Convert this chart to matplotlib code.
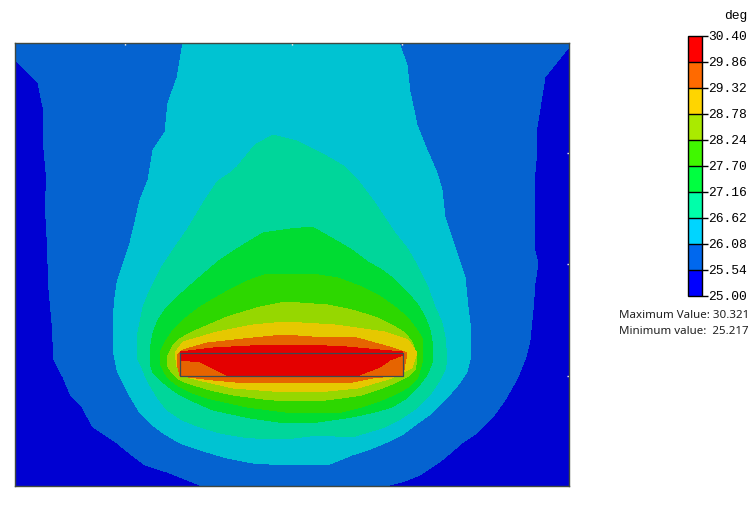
import matplotlib
matplotlib.use('Agg')
import matplotlib.pyplot as plt
from matplotlib.colors import ListedColormap, BoundaryNorm
from matplotlib.cm import ScalarMappable

# levels of the scale, degrees
levels = [25.00, 25.54, 26.08, 26.62, 27.16, 27.70, 28.24, 28.78, 29.32, 29.86, 30.40]
tick_labels = ['25.00', '25.54', '26.08', '26.62', '27.16', '27.70', '28.24', '28.78', '29.32', '29.86', '30.40']
legend_colors = ['#0000ff', '#0068ee', '#00d5ff', '#00ffaa', '#00ff40', '#40f800', '#aaea00', '#ffd500', '#ff6a00', '#ff0000']
plot_colors = ['#0000d2', '#0563d0', '#00c3d2', '#00d69a', '#00dc32', '#2dd700', '#96d700', '#e6c800', '#e66400', '#e40000']

# model extents and block outline
x_range = [15, 569]
y_range = [486, 43]
block_x = [180, 403, 403, 180, 180]
block_y = [353, 353, 376, 376, 353]
frame_xticks = [125, 292, 402]
frame_yticks = [153, 264, 376]

# contour outlines, lowest level first
c_2554 = [(15, 43), (569, 43), (569, 47), (545, 77), (537, 127), (537, 150), (534, 183), (535, 207), (534, 248), (538, 263), (535, 283), (533, 310), (530, 340), (526, 357), (518, 377), (505, 400), (492, 418), (477, 433), (462, 443), (442, 460), (420, 475), (402, 482), (385, 486), (202, 486), (167, 472), (145, 465), (128, 452), (117, 443), (93, 427), (82, 407), (71, 396), (63, 377), (54, 360), (52, 323), (49, 290), (47, 237), (45, 200), (47, 183), (44, 150), (43, 107), (38, 83), (15, 60)]
c_2608 = [(183, 43), (399, 43), (407, 65), (410, 92), (417, 125), (427, 150), (437, 173), (442, 190), (445, 217), (450, 232), (455, 247), (460, 262), (465, 277), (468, 307), (470, 323), (471, 347), (470, 360), (467, 372), (458, 385), (445, 400), (432, 413), (418, 423), (402, 435), (385, 443), (368, 450), (352, 455), (330, 464), (285, 465), (253, 463), (227, 458), (200, 450), (180, 443), (163, 433), (150, 423), (140, 413), (128, 393), (117, 370), (113, 350), (113, 320), (115, 297), (117, 283), (122, 267), (130, 243), (135, 222), (140, 200), (148, 180), (153, 150), (165, 132), (168, 103), (177, 78)]
c_2662 = [(273, 135), (297, 141), (328, 157), (345, 167), (360, 183), (375, 203), (385, 218), (395, 233), (407, 248), (418, 267), (427, 285), (435, 307), (442, 323), (445, 337), (447, 360), (445, 370), (438, 383), (430, 395), (418, 407), (402, 418), (385, 427), (352, 437), (318, 435), (285, 439), (267, 439), (243, 437), (220, 433), (200, 427), (182, 420), (167, 410), (157, 397), (147, 380), (142, 368), (137, 357), (137, 337), (143, 307), (150, 290), (160, 270), (173, 250), (187, 230), (207, 197), (217, 182), (230, 173), (237, 167), (255, 145)]
c_2716 = [(312, 227), (335, 240), (352, 250), (368, 262), (382, 270), (395, 280), (408, 293), (418, 305), (425, 317), (430, 330), (433, 347), (432, 363), (427, 375), (418, 387), (407, 398), (392, 407), (375, 412), (352, 417), (318, 422), (285, 423), (250, 418), (213, 410), (197, 403), (180, 395), (170, 388), (160, 380), (153, 373), (150, 363), (150, 350), (153, 333), (158, 320), (167, 307), (183, 292), (200, 277), (220, 260), (240, 247), (263, 233), (290, 229)]
c_2770 = [(312, 274), (338, 278), (362, 287), (378, 295), (395, 307), (407, 317), (417, 330), (422, 338), (423, 350), (422, 363), (418, 377), (410, 386), (398, 393), (382, 400), (362, 407), (342, 412), (318, 413), (285, 412), (247, 407), (207, 398), (190, 392), (177, 385), (168, 378), (163, 370), (160, 363), (160, 353), (165, 342), (173, 330), (187, 317), (200, 307), (217, 297), (233, 288), (250, 280), (267, 274)]
c_2824 = [(285, 302), (328, 305), (352, 310), (375, 317), (392, 325), (405, 333), (412, 342), (415, 350), (417, 360), (415, 370), (407, 377), (395, 383), (380, 389), (362, 395), (342, 398), (318, 401), (285, 401), (263, 399), (233, 395), (210, 390), (187, 383), (178, 379), (172, 373), (168, 367), (167, 358), (172, 347), (178, 340), (190, 333), (227, 317), (260, 307)]
c_2878 = [(285, 322), (335, 325), (385, 332), (408, 340), (417, 353), (412, 368), (392, 378), (358, 388), (318, 392), (285, 392), (233, 388), (190, 378), (177, 367), (175, 353), (183, 342), (217, 332), (253, 325)]
c_2932 = [(283, 335), (312, 337), (357, 338), (393, 348), (407, 353), (403, 375), (373, 378), (347, 383), (247, 383), (213, 380), (180, 376), (177, 363), (177, 355), (183, 350), (207, 343), (253, 338)]
c_2986 = [(307, 345), (347, 347), (380, 350), (403, 352), (403, 355), (390, 360), (380, 367), (367, 372), (357, 376), (228, 376), (220, 372), (200, 362), (180, 360), (180, 352), (213, 348), (250, 346)]
contours = [c_2554, c_2608, c_2662, c_2716, c_2770, c_2824, c_2878, c_2932, c_2986]

W, H = 756, 505
fig = plt.figure(figsize=(W / 100, H / 100), dpi=100, facecolor='white')

ax = fig.add_axes([15 / W, (H - 486) / H, 554 / W, 443 / H], facecolor=plot_colors[0])
ax.set_xlim(x_range)
ax.set_ylim(y_range)
for outline, color in zip(contours, plot_colors[1:]):
    xs, ys = zip(*outline)
    ax.fill(xs, ys, color=color, linewidth=0, antialiased=False)
ax.plot(block_x, block_y, color='#3c4a50', linewidth=0.9)

for spine in ax.spines.values():
    spine.set_color('#404840')
    spine.set_linewidth(1)
ax.set_xticks(frame_xticks)
ax.set_yticks(frame_yticks)
ax.tick_params(bottom=False, left=False, top=True, right=True, labelbottom=False, labelleft=False,
               direction='inout', length=3, width=1, color='white')

# scale bar
cax = fig.add_axes([687.5 / W, (H - 296) / H, 14.5 / W, 260 / H])
norm = BoundaryNorm(levels, len(legend_colors))
cbar = fig.colorbar(ScalarMappable(norm=norm, cmap=ListedColormap(legend_colors)), cax=cax,
                    ticks=levels, spacing='proportional', drawedges=True)
cbar.dividers.set_color('black')
cbar.dividers.set_linewidth(1)
cbar.outline.set_edgecolor('black')
cbar.outline.set_linewidth(1)
cbar.ax.set_yticklabels(tick_labels, family='Liberation Mono', fontsize=9.4, color='black')
cbar.ax.tick_params(length=4, width=1, pad=0.5, color='black')

fig.text(747 / W, (H - 16) / H, 'deg', family='Liberation Mono', fontsize=9.4, ha='right', va='center', color='black')
fig.text(749 / W, (H - 315) / H, 'Maximum Value: 30.321', family='Noto Sans', fontsize=8.3, ha='right', va='center', color='#202020')
fig.text(749 / W, (H - 331) / H, 'Minimum value:  25.217', family='Noto Sans', fontsize=8.3, ha='right', va='center', color='#202020')

fig.savefig('out.png', dpi=100, facecolor='white')
plt.close(fig)
